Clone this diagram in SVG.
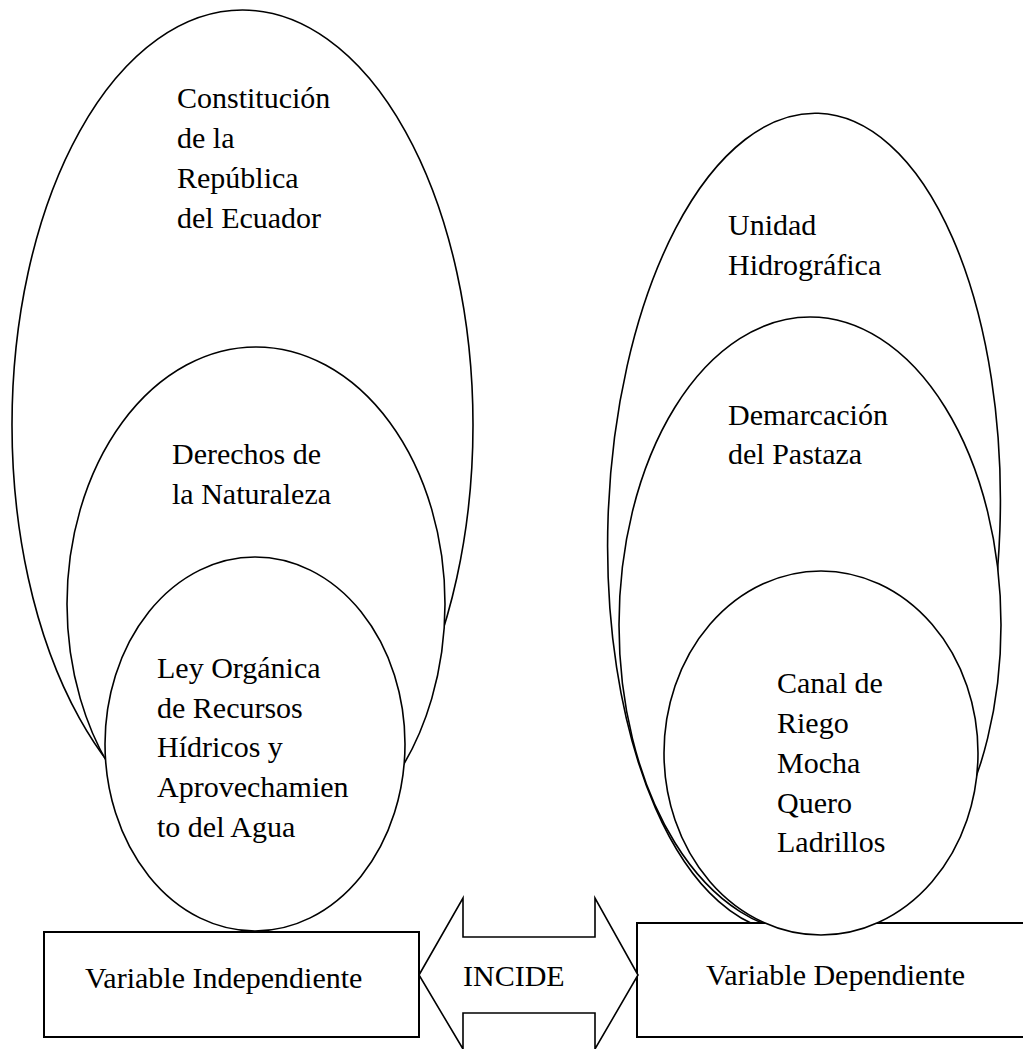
<svg xmlns="http://www.w3.org/2000/svg" width="1023" height="1049" viewBox="0 0 1023 1049">
<style>
.sh{fill:#fff;stroke:#000;stroke-width:1.6}
.bx{fill:#fff;stroke:#000;stroke-width:2}
.t{font-family:"Liberation Serif","Times New Roman",serif;font-size:30px;fill:#000}
</style>
<rect width="1023" height="1049" fill="#fff"/>
<g id="constitucion">
<ellipse class="sh" cx="242.5" cy="425" rx="230.5" ry="415"/>
<text class="t" x="177" y="108">Constitución</text>
<text class="t" x="177" y="148">de la</text>
<text class="t" x="177" y="188">República</text>
<text class="t" x="177" y="228">del Ecuador</text>
</g>
<g id="derechos">
<ellipse class="sh" cx="256" cy="604" rx="189" ry="257"/>
<text class="t" x="172" y="464">Derechos de</text>
<text class="t" x="172" y="504">la Naturaleza</text>
</g>
<g id="ley">
<ellipse class="sh" cx="255" cy="744" rx="150" ry="187"/>
<text class="t" x="157" y="678">Ley Orgánica</text>
<text class="t" x="157" y="718">de Recursos</text>
<text class="t" x="157" y="757">Hídricos y</text>
<text class="t" x="157" y="797">Aprovechamien</text>
<text class="t" x="157" y="837">to del Agua</text>
</g>
<g id="var-independiente">
<rect class="bx" x="44" y="932" width="375" height="105"/>
<text class="t" x="85" y="988">Variable Independiente</text>
</g>
<g id="unidad">
<ellipse class="sh" cx="804" cy="523" rx="196" ry="410" transform="rotate(2 804 523)"/>
<text class="t" x="728" y="235">Unidad</text>
<text class="t" x="728" y="275">Hidrográfica</text>
</g>
<g id="demarcacion">
<ellipse class="sh" cx="810" cy="625" rx="191" ry="308"/>
<text class="t" x="728" y="425">Demarcación</text>
<text class="t" x="728" y="464">del Pastaza</text>
</g>
<g id="var-dependiente">
<rect class="bx" x="637" y="923" width="400" height="114"/>
<text class="t" x="706" y="985">Variable Dependiente</text>
</g>
<g id="canal">
<ellipse class="sh" cx="821" cy="753" rx="157" ry="182"/>
<text class="t" x="777" y="693">Canal de</text>
<text class="t" x="777" y="733">Riego</text>
<text class="t" x="777" y="773">Mocha</text>
<text class="t" x="777" y="813">Quero</text>
<text class="t" x="777" y="852">Ladrillos</text>
</g>
<g id="connectors">
<g id="incide">
<polygon class="sh" points="419,975 463,898 463,937 595,937 595,898 638,975 595,1049 595,1013 463,1013 463,1049"/>
<text class="t" x="463" y="986">INCIDE</text>
</g>
</g>
</svg>
